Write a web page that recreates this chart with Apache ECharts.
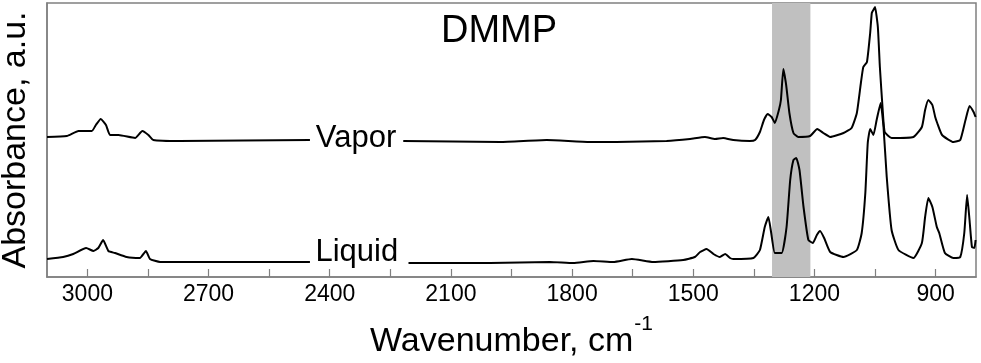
<!DOCTYPE html>
<html>
<head>
<meta charset="utf-8">
<script src="https://cdn.jsdelivr.net/npm/echarts@6/dist/echarts.min.js"></script>
<style>html,body{margin:0;padding:0;background:#fff}#c{width:981px;height:363px}</style>
</head>
<body>
<div id="c"></div>
<script>
// Wavenumber (cm-1) and absorbance (a.u., offset)
const vaporWn = [3100,3051,3022,2989,2979,2967,2954,2944,2923,2882,2864,2849,2837,2771,2449,
  2330,
  2218,1978,1863,1756,1690,1566,1508,1471,1446,1426,1401,1360,1347,1335,1325,1316,1306,1298,1288,1283,1277,1270,1262,1252,1240,1211,1193,1178,1161,1128,1108,1095,1085,1079,1070,1062,1058,1054,1050,1043,1038,1031,1026,1009,955,934,926,918,908,901,896,884,856,839,826,816,806,801];
const vaporAbs = [1.40,1.41,1.46,1.46,1.52,1.58,1.52,1.42,1.42,1.39,1.46,1.42,1.37,1.36,1.37,
  null,
  1.36,1.35,1.37,1.35,1.35,1.36,1.38,1.40,1.38,1.39,1.37,1.36,1.37,1.45,1.57,1.63,1.60,1.54,1.67,1.77,2.08,1.92,1.64,1.44,1.40,1.41,1.48,1.44,1.40,1.44,1.49,1.64,1.94,2.10,2.15,2.44,2.64,2.67,2.70,2.50,2.10,1.67,1.45,1.39,1.40,1.50,1.67,1.77,1.72,1.60,1.54,1.42,1.35,1.37,1.57,1.71,1.65,1.60];
const liquidWn = [3100,3060,3035,3003,2985,2973,2961,2948,2932,2903,2870,2855,2845,2820,2449,
  2330,
  2205,2003,1855,1797,1747,1698,1652,1599,1525,1496,1483,1467,1450,1434,1421,1409,1401,1351,1335,1323,1314,1307,1298,1281,1269,1260,1252,1245,1237,1227,1215,1204,1194,1186,1176,1161,1128,1095,1083,1074,1068,1062,1054,1046,1036,1029,1021,1009,992,955,934,926,918,908,897,891,877,856,839,829,822,816,810,804,801];
const liquidAbs = [0.18,0.20,0.23,0.29,0.26,0.29,0.37,0.26,0.24,0.20,0.19,0.26,0.18,0.15,0.15,
  null,
  0.14,0.14,0.15,0.14,0.16,0.15,0.18,0.15,0.17,0.20,0.25,0.28,0.23,0.20,0.23,0.19,0.18,0.19,0.27,0.50,0.60,0.44,0.24,0.24,0.50,0.97,1.17,1.19,1.07,0.70,0.37,0.34,0.42,0.46,0.39,0.25,0.20,0.27,0.44,0.84,1.34,1.48,1.42,1.57,1.74,1.50,1.00,0.47,0.27,0.19,0.34,0.60,0.79,0.70,0.50,0.44,0.24,0.19,0.20,0.44,0.82,0.57,0.30,0.29,0.37];
const seriesLabels = ['Vapor', 'Liquid'];
const labelPos = [[2335, 1.385], [2333, 0.245]];
const bandRange = [1305, 1210];
const tickValues = [3000, 2850, 2700, 2550, 2400, 2250, 2100, 1950, 1800, 1650, 1500, 1350, 1200, 1050, 900];
const tickLabels = [3000, 2700, 2400, 2100, 1800, 1500, 1200, 900];
const xRange = [800, 3100];
const yRange = [0, 2.74];

const pair = (xs, ys) => xs.map((x, i) => [x, ys[i] === null ? '-' : ys[i]]);
const FONT = '"Liberation Sans", Arial, sans-serif';

const chart = echarts.init(document.getElementById('c'), null, {renderer: 'canvas'});
chart.setOption({
  animation: false,
  backgroundColor: '#fff',
  title: {
    text: 'DMMP', left: 436, top: 8,
    textStyle: {fontFamily: FONT, fontSize: 38, fontWeight: 'normal', color: '#000'}
  },
  grid: {left: 47, right: 5, top: 3, bottom: 86, show: true, borderColor: '#808080', borderWidth: 1.5,
    containLabel: false, outerBoundsMode: 'none'},
  xAxis: {
    type: 'value', inverse: true, min: xRange[0], max: xRange[1],
    axisLine: {show: true, lineStyle: {color: '#808080', width: 1.5}},
    axisTick: {show: true, inside: true, length: 8, customValues: tickValues, lineStyle: {color: '#808080', width: 1.2}},
    axisLabel: {customValues: tickLabels, formatter: v => String(v), margin: 6, fontFamily: FONT, fontSize: 23, color: '#000'},
    splitLine: {show: false},
    name: '{a|Wavenumber, cm}{s|-1}',
    nameLocation: 'middle', nameGap: 37,
    nameTextStyle: {
      rich: {
        a: {fontFamily: FONT, fontSize: 34, color: '#000', verticalAlign: 'bottom'},
        s: {fontFamily: FONT, fontSize: 21, color: '#000', verticalAlign: 'bottom', padding: [0, 0, 24, 1]}
      }
    }
  },
  yAxis: {
    type: 'value', min: yRange[0], max: yRange[1],
    axisLine: {show: true, lineStyle: {color: '#808080', width: 1.5}},
    axisTick: {show: false}, axisLabel: {show: false}, splitLine: {show: false},
    name: 'Absorbance, a.u.', nameLocation: 'middle', nameRotate: 90, nameGap: 14,
    nameTextStyle: {fontFamily: FONT, fontSize: 34, color: '#000'}
  },
  series: [
    {
      type: 'line', data: [], z: 1, silent: true,
      markArea: {silent: true, itemStyle: {color: '#c0c0c0'}, data: [[{xAxis: bandRange[0]}, {xAxis: bandRange[1]}]]}
    },
    {
      name: seriesLabels[0], type: 'line', data: pair(vaporWn, vaporAbs), showSymbol: false, connectNulls: false,
      smooth: 0.15, lineStyle: {color: '#000', width: 2}, z: 3
    },
    {
      name: seriesLabels[1], type: 'line', data: pair(liquidWn, liquidAbs), showSymbol: false, connectNulls: false,
      smooth: 0.15, lineStyle: {color: '#000', width: 2}, z: 3
    },
    {
      type: 'scatter', symbolSize: 1, silent: true, z: 4,
      itemStyle: {opacity: 0},
      data: labelPos.map((p, i) => ({value: p, label: {formatter: seriesLabels[i]}})),
      label: {show: true, position: 'inside', fontFamily: FONT, fontSize: 31, color: '#000', opacity: 1,
        textBorderWidth: 0}
    }
  ]
});
</script>
</body>
</html>
